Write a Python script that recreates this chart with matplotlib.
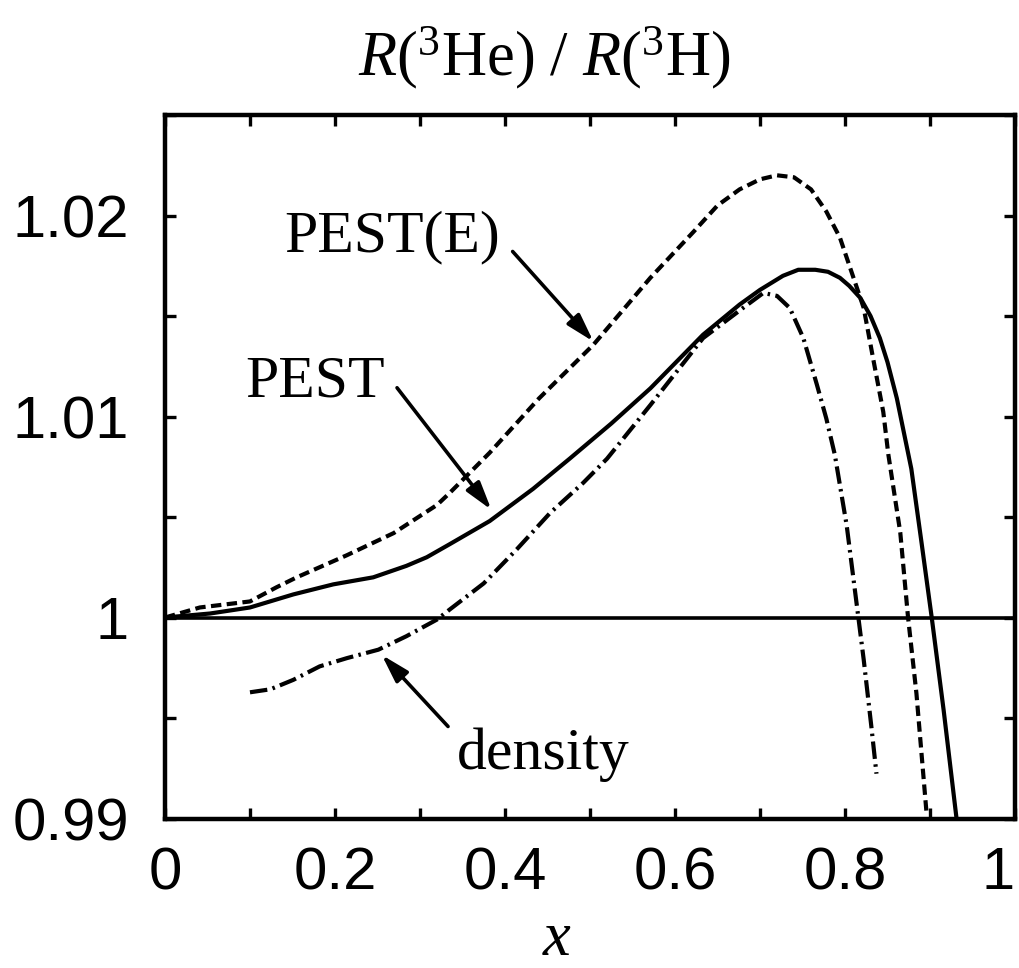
import matplotlib
matplotlib.use('Agg')
import matplotlib.pyplot as plt
from matplotlib.ticker import MultipleLocator, FuncFormatter

plt.rcParams['mathtext.fontset'] = 'custom'
plt.rcParams['mathtext.rm'] = 'Liberation Serif'
plt.rcParams['mathtext.it'] = 'Liberation Serif:italic'

# PEST (solid)
pest_x = [0, 0.053, 0.1, 0.151, 0.198, 0.245, 0.284, 0.308, 0.335, 0.382, 0.433, 0.476, 0.525,
          0.571, 0.633, 0.676, 0.70, 0.727, 0.745, 0.765, 0.78, 0.794, 0.805, 0.818, 0.83, 0.841, 0.85,
          0.861, 0.878, 0.89, 0.902, 0.916, 0.931]
pest_y = [1.0, 1.0002, 1.0005, 1.00115, 1.00165, 1.0020, 1.00257, 1.0030, 1.00365, 1.0048, 1.0064, 1.0079, 1.00965,
          1.0114, 1.01407, 1.01557, 1.0163, 1.0170, 1.0173, 1.0173, 1.0172, 1.0169, 1.0165, 1.0159, 1.0150, 1.0139, 1.0127,
          1.0109, 1.0074, 1.00373, 1.0, 0.9954, 0.99007]

# PEST(E) (short dash)
peste_x = [0, 0.041, 0.1, 0.131, 0.155, 0.214, 0.269, 0.32, 0.335, 0.382, 0.44, 0.504, 0.571, 0.622, 0.65, 0.676,
           0.70, 0.72, 0.74, 0.76, 0.778, 0.794, 0.81, 0.822, 0.833, 0.845, 0.851, 0.865, 0.874, 0.884, 0.896]
peste_y = [1.0, 1.0005, 1.0008, 1.0015, 1.0020, 1.0031, 1.0042, 1.0056, 1.0062, 1.0082, 1.0109, 1.01357, 1.0169, 1.0192, 1.0205, 1.0213,
           1.0218, 1.0220, 1.0219, 1.0213, 1.0202, 1.0189, 1.0169, 1.0154, 1.0129, 1.01023, 1.0081, 1.00423, 1.00007, 0.99623, 0.99023]

# density (dash-dot)
dens_x = [0.1, 0.124, 0.151, 0.182, 0.214, 0.251, 0.284, 0.32, 0.335, 0.375, 0.414, 0.453, 0.492, 0.52,
          0.571, 0.633, 0.68, 0.704, 0.72, 0.735, 0.751, 0.767, 0.778, 0.788, 0.802, 0.814, 0.822, 0.831, 0.837]
dens_y = [0.99628, 0.99643, 0.9969, 0.99757, 0.99798, 0.9984, 0.99907, 0.9999, 1.0004, 1.0017, 1.0034, 1.0052, 1.0067, 1.0079,
          1.01057, 1.0139, 1.0154, 1.01615, 1.0160, 1.0154, 1.0139, 1.01157, 1.0099, 1.0081, 1.00457, 1.00057, 0.9979, 0.99457, 0.99223]

xticks = [0, 0.2, 0.4, 0.6, 0.8, 1.0]
yticks = [0.99, 1.0, 1.01, 1.02]

# labels: (text, text pos, arrow start, arrow tip)
labels = [
    ('PEST(E)', (0.14, 1.01821), (0.409, 1.01821), (0.504, 1.01373)),
    ('PEST', (0.094, 1.01098), (0.273, 1.01143), (0.384, 1.00536)),
    ('density', (0.3435, 0.99246), (0.333, 0.99458), (0.255, 0.99814)),
]

lw = 3.0
fig = plt.figure(figsize=(10.19, 9.68), dpi=100)
ax = fig.add_axes([0.1619, 0.1544, 0.8342, 0.7268])

ax.axhline(1.0, color='black', lw=2.6)
ax.plot(pest_x, pest_y, color='black', lw=lw, ls='-')
ax.plot(peste_x, peste_y, color='black', lw=lw, ls=(0, (2.5, 1.3)))
ax.plot(dens_x, dens_y, color='black', lw=lw, ls=(0, (4.2, 1.3, 0.6, 1.3)))

for txt, tpos, start, tip in labels:
    ax.text(tpos[0], tpos[1], txt, fontsize=43, family='Liberation Serif', ha='left', va='baseline')
    ax.annotate('', xy=tip, xytext=start,
                arrowprops=dict(arrowstyle='-|>,head_length=0.85,head_width=0.25', color='black',
                                lw=2.6, mutation_scale=20, shrinkA=0, shrinkB=0))

ax.set_xlim(0, 1)
ax.set_ylim(0.99, 1.025)
ax.set_xticks(xticks)
ax.set_yticks(yticks)
ax.xaxis.set_minor_locator(MultipleLocator(0.1))
ax.yaxis.set_minor_locator(MultipleLocator(0.005))
ax.xaxis.set_major_formatter(FuncFormatter(lambda v, p: '%g' % round(v, 3)))
ax.yaxis.set_major_formatter(FuncFormatter(lambda v, p: '%g' % round(v, 3)))
ax.tick_params(which='both', direction='in', top=True, right=True, length=8, width=2.4)
ax.tick_params(axis='x', pad=20)
ax.tick_params(axis='y', pad=26)
for lab in ax.get_xticklabels() + ax.get_yticklabels():
    lab.set_fontsize(43)
    lab.set_family('Liberation Sans')
# keep the last x label ("1") inside the figure
ax.xaxis.get_major_ticks()[-1].label1.set_horizontalalignment('right')
ax.xaxis.get_major_ticks()[-1].label1.set_x(1.012)
for s in ax.spines.values():
    s.set_linewidth(3.2)

fig.text(544 / 1019, 1 - 58 / 968, r'$R(^{3}\mathrm{He})\ /\ R(^{3}\mathrm{H})$',
         fontsize=45, ha='center', va='center')
fig.text(557 / 1019, 1 - 940 / 968, 'x', fontsize=45, family='Liberation Serif', style='italic',
         ha='center', va='center')

fig.savefig('out.png', dpi=100)
